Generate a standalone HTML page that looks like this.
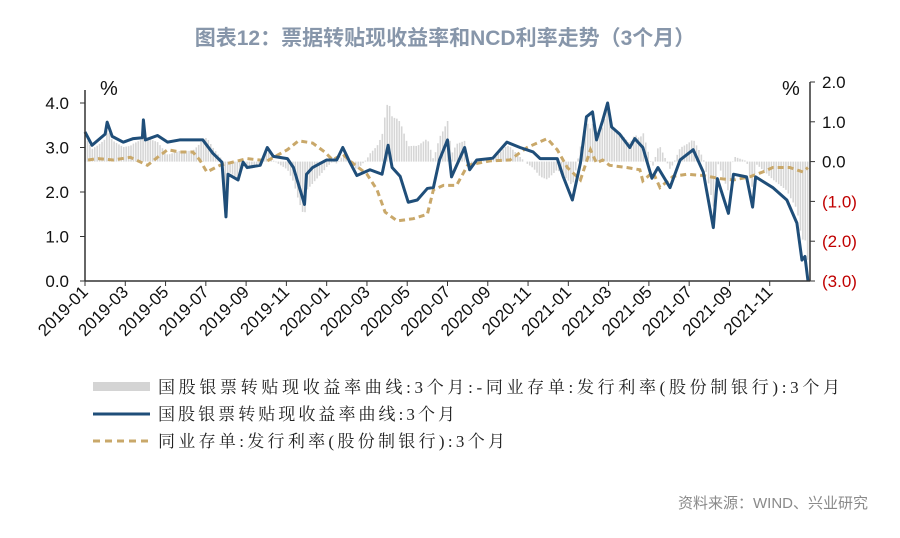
<!DOCTYPE html>
<html><head><meta charset="utf-8">
<style>
body{margin:0;background:#fff;width:900px;height:533px;overflow:hidden;font-family:"Liberation Sans","Noto Sans CJK SC",sans-serif}
svg text{font-family:"Liberation Sans","Noto Sans CJK SC",sans-serif}
svg text.serif{font-family:"Liberation Serif","Noto Serif CJK SC",serif}
</style></head><body>
<svg id="chart" width="900" height="533" xmlns="http://www.w3.org/2000/svg">
<text x="445" y="45" text-anchor="middle" font-size="21" font-weight="bold" fill="#8796aa">图表12：票据转贴现收益率和NCD利率走势（3个月）</text>
<text x="100" y="95" font-size="20" fill="#111">%</text>
<text x="782" y="95" font-size="20" fill="#111">%</text>
<g id="grid"></g>
<g id="spread"></g>
<g id="lines"></g>
<g id="axes"></g>
<g font-size="17">
 <rect x="93" y="382" width="57" height="9" fill="#d4d4d4"/>
 <text class="serif" x="158" y="393" textLength="682" lengthAdjust="spacing" fill="#222">国股银票转贴现收益率曲线:3个月:-同业存单:发行利率(股份制银行):3个月</text>
 <line x1="93" x2="150" y1="414" y2="414" stroke="#1f4e79" stroke-width="3"/>
 <text class="serif" x="158" y="420" textLength="297" lengthAdjust="spacing" fill="#222">国股银票转贴现收益率曲线:3个月</text>
 <line x1="93" x2="150" y1="441" y2="441" stroke="#c9a86a" stroke-width="3" stroke-dasharray="7,5"/>
 <text class="serif" x="158" y="447" textLength="347" lengthAdjust="spacing" fill="#222">同业存单:发行利率(股份制银行):3个月</text>
</g>
<text x="868" y="508" text-anchor="end" font-size="15" fill="#8a8a8a">资料来源：WIND、兴业研究</text>
</svg>
<script>
const billDates=[0,0.35,1.0,1.1,1.35,1.9,2.4,2.85,2.9,3.0,3.6,4.1,4.7,5.85,6.35,6.8,7.0,7.1,7.6,7.85,8.05,8.7,9.05,9.35,10.05,10.35,10.9,11.0,11.3,12.0,12.5,12.8,13.15,13.5,14.15,14.75,15.05,15.25,15.65,16.05,16.5,17.0,17.3,17.6,18.0,18.2,18.85,19.1,19.45,20.25,20.95,21.6,22.25,22.6,23.45,23.75,24.2,24.6,24.9,25.2,25.4,25.7,25.95,26.15,26.55,27.05,27.3,27.7,28.15,28.45,29.05,29.55,30.2,30.7,31.2,31.4,31.95,32.2,32.85,33.15,33.3,34.15,34.85,35.35,35.6,35.75,35.9];
const billValues=[3.35,3.05,3.3,3.57,3.25,3.12,3.2,3.22,3.62,3.17,3.27,3.12,3.17,3.17,2.87,2.67,1.44,2.4,2.27,2.67,2.55,2.6,3.0,2.8,2.75,2.55,1.72,2.4,2.55,2.72,2.72,3.0,2.67,2.37,2.5,2.4,3.05,2.55,2.35,1.77,1.82,2.08,2.1,2.72,3.17,2.34,3.0,2.5,2.72,2.76,3.12,3.0,2.9,2.75,2.75,2.34,1.82,2.65,3.69,3.8,3.17,3.6,4.0,3.46,3.3,3.0,3.2,3.0,2.31,2.55,2.1,2.72,2.95,2.45,1.2,2.3,1.52,2.4,2.34,1.66,2.34,2.1,1.82,1.3,0.47,0.55,0.0];
const ncdDates=[0.15,0.65,1.4,2.25,3.1,3.6,4.1,4.7,5.35,5.7,6.05,6.7,8.05,9.05,10.05,10.6,11.3,11.9,12.3,12.8,13.15,14.0,14.5,14.9,15.5,16.3,17.0,17.3,17.8,18.45,19.0,20.1,21.1,21.95,22.95,23.45,23.95,24.6,25.1,25.4,25.7,26.05,26.9,27.55,27.7,28.2,28.55,29.2,29.9,30.7,31.55,32.2,33.0,33.65,34.15,35.0,35.65,35.9];
const ncdValues=[2.72,2.75,2.72,2.78,2.6,2.78,2.95,2.9,2.9,2.72,2.45,2.6,2.75,2.7,2.95,3.15,3.1,2.9,2.72,2.85,2.7,2.4,2.05,1.55,1.35,1.4,1.5,2.05,2.15,2.15,2.6,2.7,2.72,3.0,3.2,2.95,2.55,2.27,2.95,2.65,2.72,2.6,2.55,2.5,2.25,2.45,2.1,2.35,2.4,2.37,2.3,2.27,2.34,2.45,2.55,2.55,2.45,2.55];
const leftTicks=["0.0","1.0","2.0","3.0","4.0"];
const rightTicks=["(3.0)","(2.0)","(1.0)","0.0","1.0","2.0"];
const xTickLabels=["2019-01","2019-03","2019-05","2019-07","2019-09","2019-11","2020-01","2020-03","2020-05","2020-07","2020-09","2020-11","2021-01","2021-03","2021-05","2021-07","2021-09","2021-11"];

const X0=85,X1=810,YT=82,YB=281;
const xS=m=>X0+m*(X1-X0)/36;
const yL=v=>YB-v*(YB-103)/4;
const yR=v=>YB-(v+3)*(YB-YT)/5;
const NS="http://www.w3.org/2000/svg";
function mk(t,a,p){const e=document.createElementNS(NS,t);for(const k in a)e.setAttribute(k,a[k]);p.appendChild(e);return e;}
function interp(ds,vs,d){if(d<=ds[0])return vs[0];for(let i=1;i<ds.length;i++){if(d<=ds[i]){const t=(d-ds[i-1])/(ds[i]-ds[i-1]);return vs[i-1]+t*(vs[i]-vs[i-1]);}}return vs[vs.length-1];}

const axes=document.getElementById('axes');
const la=mk('line',{x1:X0,x2:X0,y1:YT+8,y2:YB,stroke:'#333','stroke-width':1.5},axes);


const ra=mk('line',{x1:X1,x2:X1,y1:YT,y2:YB,stroke:'#333','stroke-width':1.5},axes);


const xa=mk('line',{x1:X0,x2:X1,y1:YB,y2:YB,stroke:'#333','stroke-width':1.5},axes);


leftTicks.forEach((t,i)=>{const y=yL(parseFloat(t));
 mk('line',{x1:X0-5,x2:X0,y1:y,y2:y,stroke:'#333'},axes);
 const tx=mk('text',{x:X0-16,y:y+6,'text-anchor':'end','font-size':17,fill:'#111'},axes);tx.textContent=t;
 
 });
rightTicks.forEach((t,i)=>{const v=i-3;const y=yR(v);
 mk('line',{x1:X1,x2:X1+5,y1:y,y2:y,stroke:'#333'},axes);
 const tx=mk('text',{x:X1+12,y:y+6,'font-size':17,fill:v<0?'#c00000':'#111'},axes);tx.textContent=t;
 
 });
xTickLabels.forEach((t,i)=>{const x=xS(i*2);
 mk('line',{x1:x,x2:x,y1:YB,y2:YB+5,stroke:'#333'},axes);
 const tx=mk('text',{x:x+4,y:YB+12,'text-anchor':'end','font-size':17,fill:'#111',transform:`rotate(-45 ${x+4} ${YB+12})`},axes);tx.textContent=t;
 
 });

const sp=document.getElementById('spread');
for(let d=0;d<=35.9;d+=0.12){
 const s=interp(billDates,billValues,d)-interp(ncdDates,ncdValues,d);
 const y0=yR(0),y1=yR(s);
 const r=mk('rect',{x:xS(d)-0.7,y:Math.min(y0,y1),width:1.6,height:Math.abs(y1-y0),fill:'#d6d6d6'},sp);
 
 
}
const lines=document.getElementById('lines');
const ncd=mk('polyline',{points:ncdDates.map((d,i)=>xS(d)+','+yL(ncdValues[i])).join(' '),fill:'none',stroke:'#c9a86a','stroke-width':3,'stroke-dasharray':'6,4'},lines);


const bill=mk('polyline',{points:billDates.map((d,i)=>xS(d)+','+yL(billValues[i])).join(' '),fill:'none',stroke:'#1f4e79','stroke-width':3,'stroke-linejoin':'round'},lines);


</script>
</body></html>
